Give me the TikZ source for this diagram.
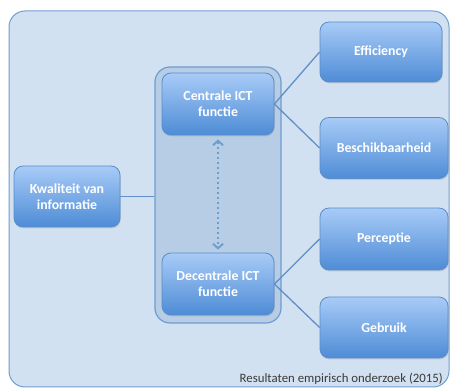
\documentclass[tikz,border=0pt]{standalone}
\usepackage{fontspec}
\setmainfont{Carlito}
\usetikzlibrary{arrows.meta,shadows}
\definecolor{bgfill}{HTML}{D2E1F1}
\definecolor{bgline}{HTML}{6E9DD0}
\definecolor{contfill}{HTML}{B6CDE5}
\definecolor{boxtop}{HTML}{A8CBF7}
\definecolor{boxbot}{HTML}{4E8CD6}
\definecolor{boxline}{HTML}{5A8DCB}
\definecolor{conn}{HTML}{6090C8}
\definecolor{foot}{HTML}{3A3A3A}
\tikzset{
  bluebox/.style={rounded corners=9pt, top color=boxtop, bottom color=boxbot, draw=boxline, line width=0.8pt,
    text=white, font=\fontsize{13.8}{16}\selectfont\bfseries, align=center,
    drop shadow={shadow xshift=0.8pt, shadow yshift=-1.5pt, opacity=0.25}},
  connline/.style={draw=conn, line width=1.3pt},
}
\begin{document}
\begin{tikzpicture}[x=1pt,y=1pt]
\useasboundingbox (0,0) rectangle (450,388);
\node[draw=bgline, fill=bgfill, line width=1pt, rounded corners=16pt, minimum width=440pt, minimum height=376pt, inner sep=0pt] (bg) at (229,189) {};
\node[draw=bgline, fill=contfill, line width=1.2pt, rounded corners=15pt, minimum width=126pt, minimum height=256pt, inner sep=0pt] (cont) at (218,193) {};
\node[bluebox, minimum width=112pt, minimum height=62pt] (cent) at (218,284) {Centrale ICT\\functie};
\node[bluebox, minimum width=112pt, minimum height=62pt] (dec) at (218,104) {Decentrale ICT\\functie};
\node[bluebox, minimum width=106pt, minimum height=61pt] (kwal) at (67,191.5) {Kwaliteit van\\informatie};
\node[bluebox, minimum width=122pt, minimum height=60pt] (eff) at (381,336) {Efficiency};
\node[bluebox, minimum width=128pt, minimum height=61pt] (besch) at (384,240) {Beschikbaarheid};
\node[bluebox, minimum width=128pt, minimum height=62pt] (perc) at (384,149) {Perceptie};
\node[bluebox, minimum width=128pt, minimum height=61pt] (gebr) at (384,60.5) {Gebruik};
\draw[connline] (kwal.east) -- (kwal.east -| cont.west);
\draw[connline] (cent.east) -- (eff.west);
\draw[connline] (cent.east) -- (besch.west);
\draw[connline] (dec.east) -- (perc.west);
\draw[connline] (dec.east) -- (gebr.west);
\draw[draw=bgline, line width=2pt, dash pattern=on 2pt off 3pt, {Straight Barb[length=4.5pt,width=10pt]}-{Straight Barb[length=4.5pt,width=10pt]}, shorten <=4pt, shorten >=3pt] (cent.south) -- (dec.north);
\node[anchor=east, text=foot, font=\fontsize{12.8}{14}\selectfont, inner sep=0pt] (ft) at (443,9) {Resultaten empirisch onderzoek (2015)};
\end{tikzpicture}
\end{document}
